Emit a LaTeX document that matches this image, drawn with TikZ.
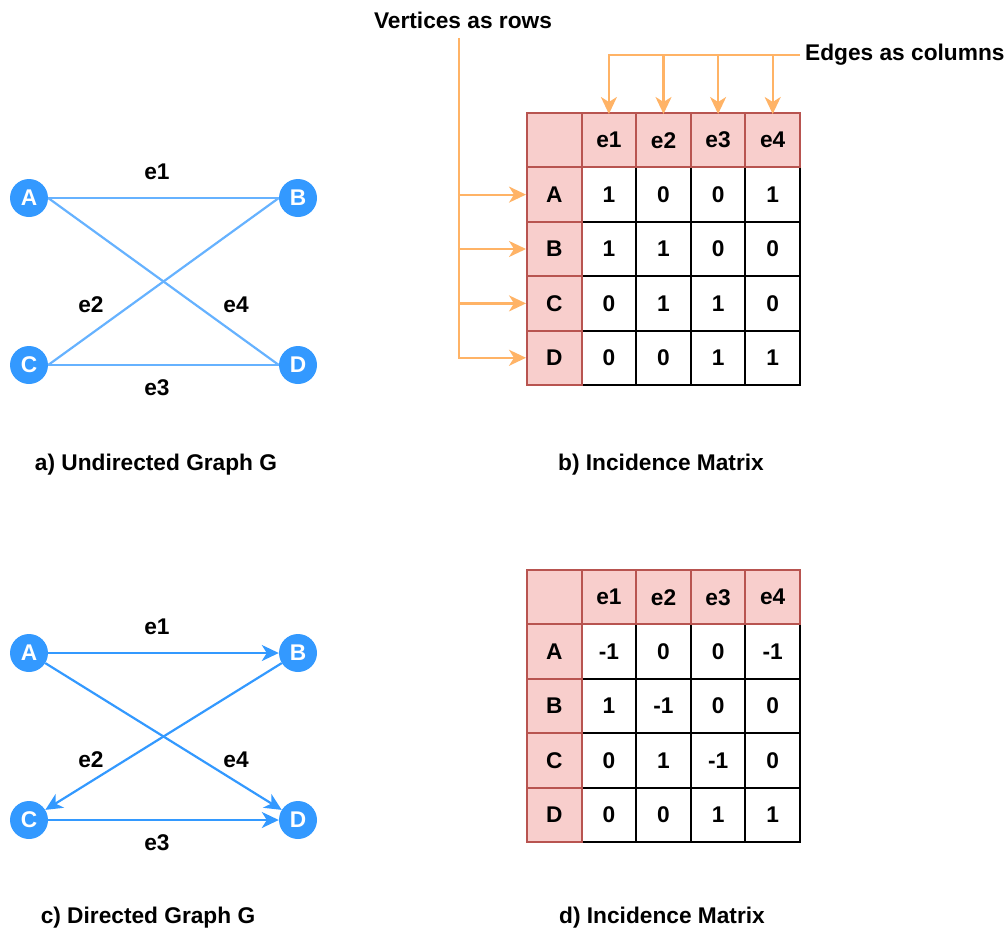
\documentclass[tikz,border=0pt]{standalone}
\usepackage{fontspec}
\setmainfont{Liberation Sans}
\usetikzlibrary{arrows.meta}
\definecolor{nodeblue}{HTML}{3399FF}
\definecolor{edgeblue}{HTML}{66B2FF}
\definecolor{orng}{HTML}{FFB366}
\definecolor{pinkfill}{HTML}{F8CECC}
\definecolor{pinkline}{HTML}{B85450}
\begin{document}
\begin{tikzpicture}[x=1pt,y=-1pt,
  font=\fontsize{22.7}{27}\selectfont\bfseries,
  vert/.style={circle, fill=nodeblue, text=white, minimum size=38pt, inner sep=0pt},
  uedge/.style={draw=edgeblue, line width=2.2pt},
  dedge/.style={draw=nodeblue, line width=2.2pt, -{Stealth[length=17pt,width=16pt,inset=5pt]}},
  lbl/.style={inner sep=0pt},
  cellw/.style={draw=black, fill=white, line width=2pt, minimum width=54.6pt, minimum height=54.4pt, inner sep=0pt},
  cellp/.style={cellw, draw=pinkline, fill=pinkfill},
  guide/.style={draw=orng, line width=2.2pt},
  guidearrow/.style={guide, -{Stealth[length=17pt,width=16pt,inset=5pt]}}
]
\useasboundingbox (0,0) rectangle (1008,934);

% ---- a) undirected graph ----
\node[vert] (A) at (29,198) {A};
\node[vert] (B) at (298,198) {B};
\node[vert] (C) at (29,365) {C};
\node[vert] (D) at (298,365) {D};
\draw[uedge] (A.east) -- (B.west);
\draw[uedge] (A.east) -- (D.west);
\draw[uedge] (C.east) -- (B.west);
\draw[uedge] (C.east) -- (D.west);
\node[lbl] (ua1) at (157,172) {e1};
\node[lbl] (ua2) at (91,305) {e2};
\node[lbl] (ua4) at (236,305) {e4};
\node[lbl] (ua3) at (157,388) {e3};
\node[lbl] (capa) at (156,465) {a) Undirected Graph G};

% ---- c) directed graph ----
\node[vert] (A2) at (29,653) {A};
\node[vert] (B2) at (298,653) {B};
\node[vert] (C2) at (29,820) {C};
\node[vert] (D2) at (298,820) {D};
\draw[dedge] (A2) -- (B2);
\draw[dedge] (A2) -- (D2);
\draw[dedge] (B2) -- (C2);
\draw[dedge] (C2) -- (D2);
\node[lbl] (da1) at (157,627) {e1};
\node[lbl] (da2) at (91,760) {e2};
\node[lbl] (da4) at (236,760) {e4};
\node[lbl] (da3) at (157,843) {e3};
\node[lbl] (capc) at (148,918) {c) Directed Graph G};

% ---- b) incidence matrix of the undirected graph ----
\foreach \vals [count=\r] in {{1,0,0,1},{1,1,0,0},{0,1,1,0},{0,0,1,1}}
  \foreach \v [count=\c] in \vals
    \node[cellw] (u-\r-\c) at ({527+54.6*(\c+0.5)},{113+54.4*(\r+0.5)}) {\v};
\node[cellp] (u-0-0) at ({527+27.3},{113+27.2}) {};
\foreach \c in {1,...,4}
  \node[cellp] (u-0-\c) at ({527+54.6*(\c+0.5)},{113+27.2}) {e\c};
\foreach \lab [count=\r] in {A,B,C,D}
  \node[cellp] (u-\r-0) at ({527+27.3},{113+54.4*(\r+0.5)}) {\lab};
\node[lbl] (capb) at (661,465) {b) Incidence Matrix};

% guides: vertices as rows
\node[lbl] (vrows) at (463,20) {Vertices as rows};
\coordinate (vtop) at (459,38);
\draw[guidearrow] (vtop) |- (u-4-0.west);
\foreach \r in {1,2,3}
  \draw[guidearrow] (vtop |- u-\r-0.west) -- (u-\r-0.west);

% guides: edges as columns
\node[lbl, anchor=west, inner xsep=5pt] (ecols) at (800,55) {Edges as columns};
\draw[guidearrow] (ecols.west) -| ([yshift=-2pt]u-0-1.north);
\foreach \c in {2,3,4}
  \draw[guidearrow] (u-0-\c.north |- ecols.west) -- ([yshift=-2pt]u-0-\c.north);

% ---- d) incidence matrix of the directed graph ----
\foreach \vals [count=\r] in {{-1,0,0,-1},{1,-1,0,0},{0,1,-1,0},{0,0,1,1}}
  \foreach \v [count=\c] in \vals
    \node[cellw] (d-\r-\c) at ({527+54.6*(\c+0.5)},{570+54.4*(\r+0.5)}) {\v};
\node[cellp] (d-0-0) at ({527+27.3},{570+27.2}) {};
\foreach \c in {1,...,4}
  \node[cellp] (d-0-\c) at ({527+54.6*(\c+0.5)},{570+27.2}) {e\c};
\foreach \lab [count=\r] in {A,B,C,D}
  \node[cellp] (d-\r-0) at ({527+27.3},{570+54.4*(\r+0.5)}) {\lab};
\node[lbl] (capd) at (662,918) {d) Incidence Matrix};
\end{tikzpicture}
\end{document}
